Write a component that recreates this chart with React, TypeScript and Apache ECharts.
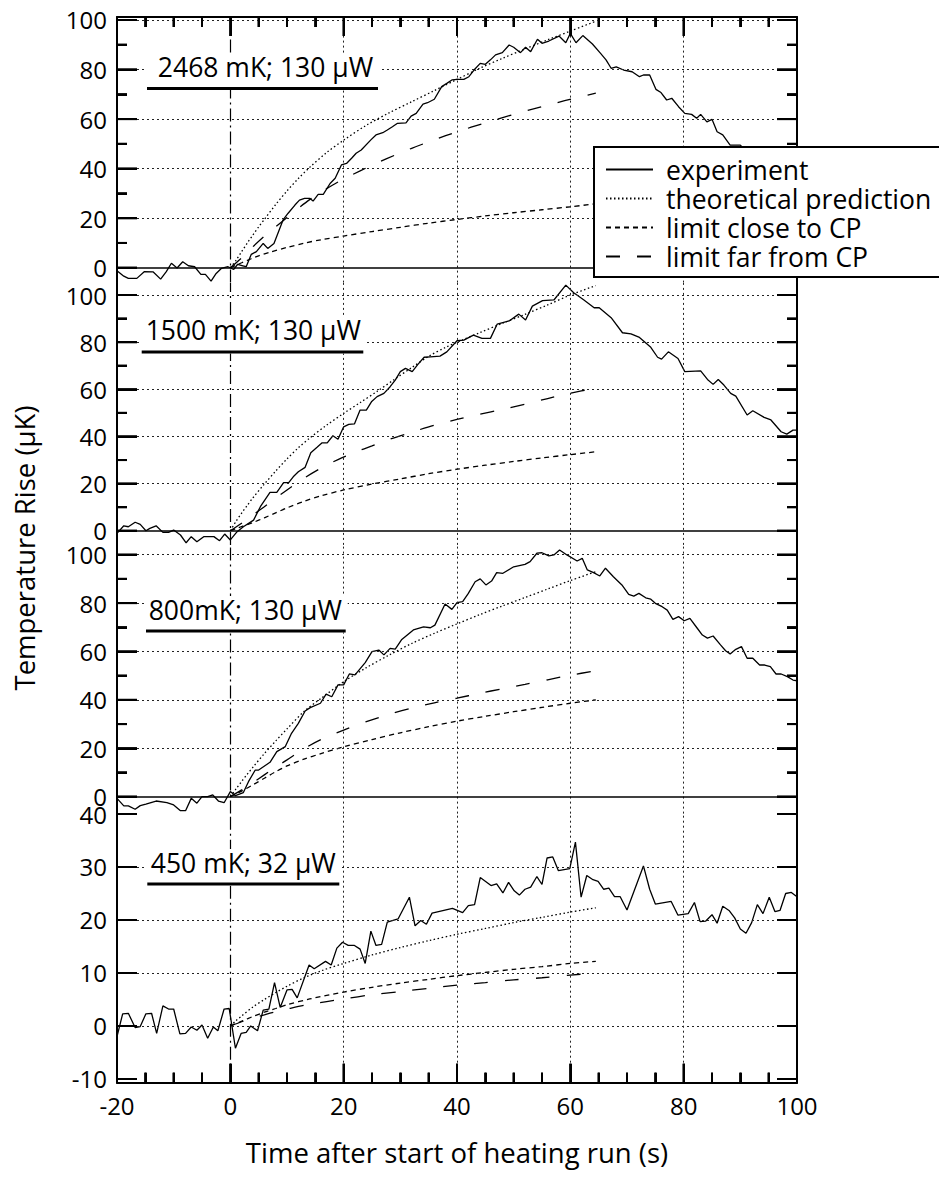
import React, { useEffect, useRef } from "react";
import * as echarts from "echarts";

const FONT = '"Open Sans", "Noto Sans", sans-serif';

// ---- shared axis values ----
const timeMin = -20;
const timeMax = 100;
const timeStep = 20;
const timeMajorTicks = [0, 20, 40, 60, 80];
const timeMinorTicks = [-15, -10, -5, 5, 10, 15, 25, 30, 35, 45, 50, 55, 65, 70, 75, 85, 90, 95];
const riseTicks = [0, 20, 40, 60, 80, 100];
const riseMinorTicks = [10, 30, 50, 70, 90];
const riseTicksLow = [-10, 0, 10, 20, 30, 40];
const gridRise = [20, 40, 60, 80, 100];
const gridRiseLow = [0, 10, 20, 30];
const gridTime = [20, 40, 60, 80];

const panelLabels = ["2468 mK; 130 \u03bcW", "1500 mK; 130 \u03bcW", "800mK; 130 \u03bcW", "450 mK; 32 \u03bcW"];
const seriesNames = ["experiment", "theoretical prediction", "limit close to CP", "limit far from CP"];

// ---- 2468 mK, 130 uW : [time s, rise uK] ----
const exp2468 = [
  [-20, -1.2], [-18.8, -3.4], [-18, -4.3], [-16.5, -4.3], [-15.2, -1.6], [-13.6, -1.7], [-12.3, -4.6], [-11.3, -1.6],
  [-10.4, 1.8], [-9.4, -0.1], [-8.4, 2.4], [-7.4, 0.8], [-6.3, 0.4], [-5.2, -2.7], [-4.4, -2.7], [-3.4, -5.4],
  [-2.5, -2.3], [-1.6, -0.3], [-0.4, 0.4], [0.6, -0.7], [1.3, 1.4], [2.2, 0.8], [2.8, 0.4], [3.7, 5.4], [4.6, 6.5],
  [5.8, 9.8], [6.6, 7.8], [7.7, 9.8], [8.4, 13.9], [9.3, 19.3], [10.2, 22], [11.4, 25.3], [12.2, 27.3], [13.1, 28],
  [14, 28], [14.6, 26.9], [15.5, 29.6], [16.4, 29.6], [17.6, 34], [18.5, 36.1], [19.6, 41.5], [20.5, 42.1],
  [21.4, 44.2], [22.2, 46.2], [23.1, 47.5], [24.8, 51.6], [25.7, 53.6], [26.9, 54.5], [27.7, 55.6], [28.6, 56.9],
  [29.5, 58.3], [31, 58.5], [31.9, 61.2], [32.8, 62.3], [34, 66], [34.8, 66.6], [36, 68], [37.3, 73.1], [38.2, 74.4],
  [39.1, 75.8], [40, 76], [41.2, 76], [42.1, 77.1], [43, 79.8], [44.1, 82.5], [45, 82.1], [45.9, 83.9], [46.8, 85.9],
  [48, 86.8], [49.2, 89.9], [50, 89], [51.2, 86.8], [52.1, 89], [53, 87.2], [54.2, 92.2], [55, 90.6], [56.2, 91.5],
  [58, 93.5], [59.2, 90.8], [60, 94.6], [61, 90.8], [62.2, 93.7], [63.9, 90.3], [65.3, 86.6], [66.3, 83.9],
  [67.2, 80.5], [68.1, 81.1], [69.4, 79.8], [70.9, 79.1], [72.2, 77.1], [72.9, 77.8], [74, 77.8], [75.1, 72],
  [76, 70.7], [77, 67.7], [77.9, 68.4], [79.1, 65], [80.2, 62.3], [81.4, 61.9], [82.3, 60.3], [83, 61.9],
  [84.1, 58.9], [85, 59.9], [85.9, 54.9], [86.9, 53.6], [88.2, 49.5], [90, 49.5], [91.5, 46],
];
const theo2468 = [
  [0, 0], [1, 3], [2, 6.5], [3, 10], [4, 13.3], [5, 16.5], [6, 19.5], [8, 25.5], [10, 31], [12, 36], [14, 40.5],
  [17, 46.5], [20, 51.5], [24, 57.5], [28, 62.5], [32, 67], [36, 71.5], [40, 76], [44, 80.5], [48, 84.5],
  [52, 88.3], [56, 92], [60, 95.5], [64.5, 99.5],
];
const close2468 = [
  [0, 0], [1, 1], [2, 2], [3, 3], [4, 3.9], [5, 4.8], [7, 6.3], [10, 8.2], [13, 9.9], [16, 11.3], [20, 12.8],
  [25, 14.6], [30, 16.3], [35, 18], [40, 19.5], [45, 20.9], [50, 22.2], [55, 23.4], [60, 24.6], [64.5, 25.8],
];
const far2468 = [
  [0, 0], [2, 4], [4, 8.5], [6, 12.7], [8, 16.5], [10, 20.3], [12, 24], [14, 27.5], [16, 30.5], [18, 33.3],
  [20, 35.8], [23, 39.2], [26, 42.4], [29, 45.4], [32, 48.2], [35, 50.8], [38, 53.3], [41, 55.6], [44, 57.8],
  [47, 59.9], [50, 61.9], [53, 63.8], [56, 65.6], [59, 67.4], [62, 69.1], [64.5, 70.5],
];

// ---- 1500 mK, 130 uW ----
const exp1500 = [
  [-20, -1.1], [-18.8, 2.1], [-18, 1.7], [-16.8, 3.6], [-15.9, 2.7], [-14.9, 0], [-14.2, 1], [-13.1, 2.1],
  [-11.9, -0.7], [-10.9, -0.7], [-10, 0.3], [-8.8, -1.8], [-7.8, -5.1], [-6.9, -2.5], [-5.9, -4.7], [-4.7, -2.5],
  [-2.9, -2.5], [-1.9, -4.2], [-1, -1.4], [0, -3.9], [1.2, -0.4], [2.3, 1.7], [4.1, 4.5], [5.3, 10.2], [7, 16.3],
  [8.2, 16.3], [9.4, 20.4], [10.3, 20.4], [11.1, 22.9], [12, 25], [13.2, 26.9], [14.2, 33.1], [15.3, 35.4],
  [16.2, 37.3], [17.1, 37.3], [18.1, 40.3], [19, 38.8], [20, 44.1], [20.9, 45.1], [21.9, 45.3], [22.9, 51.2],
  [24, 51.2], [24.9, 54.7], [25.9, 56.9], [27.1, 58.3], [28.2, 61.1], [29.1, 63.9], [30, 67.5], [30.9, 68.9],
  [32.1, 67.5], [33.1, 70.6], [34.2, 73.6], [35.3, 73.8], [37, 74.1], [38.2, 75.9], [40, 80.6], [41.2, 80.9],
  [42.9, 83], [44.4, 81.6], [45.9, 81.6], [47.1, 87.7], [49.2, 89], [50.9, 91.9], [52.1, 89.4], [53.3, 95.3],
  [55.1, 97.6], [57.1, 97.9], [59.2, 104.2], [60.6, 101], [62.4, 97.9], [64.2, 94.6], [65.1, 94.6], [67.2, 90.4],
  [69.2, 84], [70.7, 83.5], [72.2, 82], [74.2, 77.8], [75.4, 73.6], [76.1, 72.8], [77.3, 75.9], [79, 73.1],
  [80.2, 67.5], [83, 67.8], [84.2, 64.2], [85.2, 62.1], [86.1, 64.2], [87.1, 61.8], [88.3, 58.3], [89.2, 57.1],
  [91.2, 49.1], [92.2, 50.9], [94.2, 48.1], [95.4, 47], [97.2, 42], [98.2, 41], [99.3, 42.7], [100, 42.7],
];
const theo1500 = [
  [0, 0], [1, 4], [2, 7.5], [3, 10.8], [4, 14], [6, 19.8], [8, 25.3], [10, 30.5], [12, 35.2], [14, 39.3],
  [17, 44.8], [20, 49.8], [23, 54.5], [26, 59.3], [29, 64.3], [32, 69.2], [35, 74], [38, 77.8], [41, 81],
  [44, 84], [48, 88], [52, 91.8], [56, 95.8], [60, 100], [64.5, 104],
];
const close1500 = [
  [0, 0], [1, 0.9], [2, 1.8], [4, 3.5], [6, 5.5], [8, 7.6], [10, 9.7], [13, 12.5], [16, 14.8], [20, 17.3],
  [25, 19.8], [30, 22], [35, 24.2], [40, 26.1], [45, 27.8], [50, 29.4], [55, 30.9], [60, 32.3], [64.5, 33.5],
];
const far1500 = [
  [0, 0], [2, 3.2], [4, 6.7], [6, 10.2], [8, 13.8], [10, 17.3], [13, 22.3], [16, 26.6], [19, 30.2], [22, 33.3],
  [25, 36], [28, 38.7], [32, 41.8], [36, 44.8], [40, 47.2], [44, 49.4], [48, 51.5], [52, 53.7], [56, 56.1],
  [60, 58.3], [64.5, 60.6],
];

// ---- 800 mK, 130 uW ----
const exp800 = [
  [-20, -0.7], [-18.8, -3.8], [-18, -3.8], [-16.8, -5.2], [-15.9, -3.7], [-14.9, -3.1], [-13.1, -1.8],
  [-11.2, -2.5], [-10, -3.4], [-8.8, -5.8], [-7.9, -5.8], [-6.9, -0.7], [-5.9, -2.7], [-5, 0], [-4, 0],
  [-3.1, 0.7], [-2.1, -1.8], [-1.1, -2.5], [0, 2.1], [0.9, 0.4], [2.3, 1.7], [3.2, 6.2], [4.4, 11], [5, 11],
  [7, 14.2], [8.2, 18.6], [9.7, 20.7], [10.8, 26.2], [12, 30.3], [13.2, 35.4], [14.1, 36.8], [15.9, 38.6],
  [16.9, 42.4], [17.9, 41.3], [19, 46.2], [20, 46.2], [21, 50.7], [22, 50.3], [23.8, 55.4], [25, 59.9],
  [26.2, 60.6], [27.1, 58.6], [28.2, 61.3], [29.1, 61], [30.2, 64.8], [32.3, 68.9], [34.1, 70.2], [35.3, 69.8],
  [36.1, 70.9], [37.9, 79.6], [39.1, 77.4], [40, 80.2], [41, 80.6], [42, 84], [43.2, 88.8], [44.1, 90],
  [45.1, 87.5], [46.1, 89.1], [47, 92.6], [48.1, 92.3], [50, 95], [52, 96], [52.9, 97.1], [54.1, 100.6],
  [55, 100.8], [56.2, 99.5], [57.1, 99.9], [58.1, 101.9], [59.4, 99.9], [61.2, 97.4], [62.1, 98.5], [63, 93.7],
  [64.1, 92.6], [65.2, 91.2], [66.2, 94.4], [67.6, 90.9], [69.1, 87.5], [70.3, 83.6], [71.2, 82.9], [72.1, 84],
  [73.3, 82.2], [74.2, 81.6], [75, 79.9], [76.2, 78.5], [77.1, 77.1], [78.1, 73.3], [79.1, 74.4], [80.1, 72.7],
  [81.1, 73.7], [82.4, 69.6], [83.3, 66.8], [84.2, 65.5], [85.2, 66.4], [86.5, 62.7], [87.4, 60.3], [88.2, 59],
  [89.2, 60.9], [90.2, 62], [91.2, 57.2], [92.2, 57.2], [93.4, 54.4], [94.3, 54.4], [95.3, 53.7], [96.3, 50.7],
  [97.2, 50.7], [98.3, 49.6], [99.3, 48.2], [100, 47.9],
];
const theo800 = [
  [0, 0], [1, 3.2], [2, 6.3], [3, 9.3], [4, 12.2], [6, 17.8], [8, 23], [10, 28], [13, 35.2], [16, 40.6],
  [20, 47.5], [24, 53.3], [28, 58.5], [32, 63.3], [36, 67.5], [40, 71.4], [44, 75.2], [48, 78.8], [52, 82.3],
  [56, 85.8], [60, 89.3], [64.5, 93],
];
const close800 = [
  [0, 0], [1, 1.1], [2, 2.3], [4, 4.9], [6, 7.6], [8, 10.3], [10, 12.7], [13, 15.5], [16, 17.8], [20, 20.6],
  [25, 23.6], [30, 26.4], [35, 28.9], [40, 31.2], [45, 33.2], [50, 35.1], [55, 36.9], [60, 38.6], [64.5, 40],
];
const far800 = [
  [0, 0], [2, 2.8], [4, 5.8], [6, 9], [8, 12.2], [10, 15.2], [13, 19.8], [16, 23.6], [20, 27.5], [24, 31],
  [28, 34], [32, 36.6], [36, 38.8], [40, 40.7], [44, 42.7], [48, 44.6], [52, 46.4], [56, 48.3], [60, 50.2],
  [64.5, 52],
];

// ---- 450 mK, 32 uW ----
const exp450 = [
  [-20, -2], [-19, 2.3], [-18, 2.4], [-16.8, -0.3], [-15.9, -0.1], [-14.9, 2.3], [-13.9, 2.4], [-13, -1.4],
  [-11.9, 3.8], [-10.9, 3.2], [-10, 3.2], [-8.9, -1.5], [-7.9, -1.4], [-6.9, -0.2], [-5.9, -0.8], [-5, 0.2],
  [-4, -2.3], [-3, -0.2], [-2.2, -0.9], [-1.1, 3.2], [-0.2, 3.3], [0.9, -4.2], [1.9, -1.4], [2.8, -1.2], [3.6, 0],
  [4.8, -0.9], [5.8, 3], [6.8, 3.2], [7.8, 8.2], [8.8, 3.5], [10, 6.8], [10.9, 6.9], [11.8, 5.3], [13.9, 11.5],
  [14.8, 10.8], [16.8, 12.2], [17.8, 11.5], [18.8, 14.7], [19.8, 15.8], [20.8, 15.2], [21.9, 15.2], [22.9, 14.5],
  [23.8, 11.8], [24.8, 17.9], [25.7, 15.2], [26.7, 15.4], [27.7, 19.6], [29.6, 20.2], [31.6, 24.3], [32.6, 18.9],
  [33.6, 19.9], [34.6, 19.2], [35.6, 21.3], [39.2, 22.2], [41, 21.4], [42, 22.7], [43.1, 22.9], [44.1, 28],
  [46, 26.5], [47, 26.8], [48.1, 25.1], [49.1, 27.1], [50.1, 25.5], [51, 24.7], [52, 25.8], [53, 26.2],
  [54.1, 28.2], [55, 26.7], [55.9, 31.7], [56.9, 31.9], [57.9, 29.3], [59.9, 29.7], [60.9, 34.7], [61.9, 24.3],
  [62.9, 28.4], [64, 27.6], [64.9, 27.3], [65.9, 25.8], [66.8, 26], [67.8, 24.4], [68.8, 24.4], [70, 21.9],
  [72.9, 30.2], [74, 25.8], [75, 23], [77.8, 23.5], [79, 20.9], [80.8, 21.2], [81.9, 23.3], [82.9, 19.7],
  [83.9, 19.8], [85, 21], [85.9, 19.4], [86.9, 22.6], [88, 21.8], [89, 20.4], [90, 18.3], [91, 17.5], [92, 19.5],
  [93, 22.9], [94, 21.2], [95.1, 24.3], [96.1, 21.6], [97, 21.8], [98, 25], [99, 25.2], [100, 24.4],
];
const theo450 = [
  [0, 0], [1, 1], [2, 1.9], [4, 3.6], [6, 5], [8, 6.3], [10, 7.5], [13, 9.1], [16, 10.4], [20, 11.8], [25, 13.4],
  [30, 14.8], [35, 16.1], [40, 17.3], [45, 18.4], [50, 19.5], [55, 20.5], [60, 21.5], [64.5, 22.3],
];
const close450 = [
  [0, 0], [2, 0.9], [4, 1.8], [6, 2.6], [8, 3.3], [10, 4], [14, 5.1], [20, 6.4], [25, 7.3], [30, 8.1], [35, 8.8],
  [40, 9.5], [45, 10.1], [50, 10.7], [55, 11.2], [60, 11.8], [64.5, 12.2],
];
const far450 = [
  [0, 0], [2, 0.8], [4, 1.5], [6, 2.1], [8, 2.7], [10, 3.2], [14, 4.1], [20, 5.1], [25, 5.9], [30, 6.5],
  [35, 7.1], [40, 7.7], [45, 8.2], [50, 8.7], [55, 9.1], [60, 9.6], [64.5, 10],
];

const experiments = [exp2468, exp1500, exp800, exp450];
const theories = [theo2468, theo1500, theo800, theo450];
const closeLimits = [close2468, close1500, close800, close450];
const farLimits = [far2468, far1500, far800, far450];

// ---- layout of the four stacked panels (pixels / axis extents) ----
const PLOT_LEFT = 117;
const PLOT_WIDTH = 680;
const panelLayout = [
  { top: 17, height: 265.6, min: -6, max: 101.2 },
  { top: 283, height: 261.9, min: -6, max: 105.1 },
  { top: 545, height: 268.6, min: -7, max: 104 },
  { top: 814, height: 268.7, min: -10.7, max: 40 },
];
const titleBoxes = [
  { cx: 265.5, cy: 66.5, left: 147, right: 378, boxTop: 53, lineY: 87 },
  { cx: 253.3, cy: 329.5, left: 141.7, right: 363.3, boxTop: 316, lineY: 350.5 },
  { cx: 245.3, cy: 609.5, left: 146, right: 345.7, boxTop: 596, lineY: 629.5 },
  { cx: 243.3, cy: 862.5, left: 147.3, right: 339.3, boxTop: 849, lineY: 882.5 },
];

const BLACK = "#000";
const MAJOR_LEN = 20; // px
const MINOR_LEN = 10; // px
const TICK_WIDTH = 2;
const dottedGrid = { color: "#222", width: 1, type: [2, 3] };
const tickLine = { color: BLACK, width: TICK_WIDTH, type: "solid" };
const styles = [
  { width: 1.3, type: "solid" },
  { width: 1.3, type: [1.5, 2.5] },
  { width: 1.3, type: [5, 4] },
  { width: 1.3, type: [14, 17] },
];

// inward frame ticks of one panel as [x, y, dxPx, dyPx], anchored on the frame
function frameTicks(p: { min: number; max: number }, isTop: boolean, isBottom: boolean) {
  const items: number[][] = [];
  const yTicks: number[][] = (isBottom ? riseTicksLow : riseTicks).map((v) => [v, MAJOR_LEN]);
  if (!isBottom) riseMinorTicks.forEach((v) => yTicks.push([v, MINOR_LEN]));
  yTicks.forEach(([v, len]) => {
    items.push([timeMin, v, len, 0]);
    items.push([timeMax, v, -len, 0]);
  });
  const xTicks: number[][] = timeMajorTicks.map((t) => [t, MAJOR_LEN - 1]);
  timeMinorTicks.forEach((t) => xTicks.push([t, MINOR_LEN]));
  xTicks.forEach(([t, len]) => {
    if (isTop) items.push([t, p.max, 0, len]);
    if (isBottom) items.push([t, p.min, 0, -len]);
  });
  return items;
}

function buildOption() {
  const grids: any[] = [];
  const xAxes: any[] = [];
  const yAxes: any[] = [];
  const series: any[] = [];

  panelLayout.forEach((p, i) => {
    grids.push({ left: PLOT_LEFT, width: PLOT_WIDTH, top: p.top, height: p.height });

    const isTop = i === 0;
    const isBottom = i === panelLayout.length - 1;
    xAxes.push({
      type: "value",
      gridIndex: i,
      min: timeMin,
      max: timeMax,
      interval: timeStep,
      position: isTop ? "top" : "bottom",
      show: true,
      axisLine: { show: isTop || isBottom, onZero: false, lineStyle: { color: BLACK, width: 2 } },
      axisTick: { show: false },
      axisLabel: { show: isBottom, margin: 11, fontFamily: FONT, fontSize: 24, color: BLACK },
      splitLine: { show: false },
      name: isBottom ? "Time after start of heating run (s)" : "",
      nameLocation: "middle",
      nameGap: 56,
      nameTextStyle: { fontFamily: FONT, fontSize: 27.5, color: BLACK },
    });

    const major = isBottom ? riseTicksLow : riseTicks;
    const mainIndex = yAxes.length;
    ["left", "right"].forEach((side) => {
      yAxes.push({
        type: "value",
        gridIndex: i,
        min: p.min,
        max: p.max,
        position: side,
        axisLine: { show: true, onZero: false, lineStyle: { color: BLACK, width: 2 } },
        axisTick: { show: false },
        axisLabel: {
          show: side === "left",
          customValues: major,
          margin: 10,
          fontFamily: FONT,
          fontSize: 24,
          color: BLACK,
        },
        splitLine: { show: false },
      });
    });

    // grid lines, the heater-on marker at t = 0, the zero baseline and the frame ticks
    const secPerPx = (timeMax - timeMin) / PLOT_WIDTH;
    const unitPerPx = (p.max - p.min) / p.height;
    const lines: any[] = [];
    (isBottom ? gridRiseLow : gridRise).forEach((v) => lines.push({ yAxis: v, lineStyle: dottedGrid }));
    gridTime.forEach((v) => lines.push({ xAxis: v, lineStyle: dottedGrid }));
    lines.push({ xAxis: 0, lineStyle: { color: BLACK, width: 1.2, type: [13, 4, 2, 4] } });
    if (!isBottom) lines.push({ yAxis: 0, lineStyle: { color: BLACK, width: 1.5, type: "solid" } });
    frameTicks(p, isTop, isBottom).forEach(([x, y, dx, dy]) => {
      lines.push([
        { coord: [x, y], lineStyle: tickLine },
        { coord: [x + dx * secPerPx, y - dy * unitPerPx] },
      ]);
    });

    series.push({
      type: "line",
      name: "grid-" + i,
      xAxisIndex: i,
      yAxisIndex: mainIndex,
      data: [[0, 0]],
      symbol: "none",
      lineStyle: { opacity: 0 },
      z: 1,
      markLine: {
        silent: true,
        symbol: ["none", "none"],
        label: { show: false },
        data: lines,
      },
    });

    // the same frame ticks through a custom series
    series.push({
      type: "custom",
      xAxisIndex: i,
      yAxisIndex: mainIndex,
      clip: false,
      z: 10,
      data: frameTicks(p, isTop, isBottom),
      renderItem: (_params: any, api: any) => {
        const a = api.coord([api.value(0), api.value(1)]);
        return {
          type: "line",
          shape: { x1: a[0], y1: a[1], x2: a[0] + api.value(2), y2: a[1] + api.value(3) },
          style: { stroke: BLACK, lineWidth: TICK_WIDTH },
        };
      },
    });

    const sets = [experiments[i], theories[i], closeLimits[i], farLimits[i]];
    sets.forEach((d, k) => {
      series.push({
        type: "line",
        name: seriesNames[k],
        xAxisIndex: i,
        yAxisIndex: mainIndex,
        data: d,
        symbol: "none",
        showSymbol: false,
        smooth: k === 0 ? false : 0.3,
        z: 3,
        lineStyle: { color: BLACK, width: styles[k].width, type: styles[k].type },
        itemStyle: { color: BLACK },
      });
    });
  });

  const graphics: any[] = [];
  titleBoxes.forEach((b, i) => {
    graphics.push({
      type: "rect",
      z: 50,
      shape: { x: b.left - 2, y: b.boxTop, width: b.right - b.left + 4, height: b.lineY + 3 - b.boxTop },
      style: { fill: "#fff" },
    });
    graphics.push({
      type: "text",
      z: 51,
      x: b.cx,
      y: b.cy,
      style: {
        text: panelLabels[i],
        fontFamily: FONT,
        fontSize: 26.5,
        fill: BLACK,
        align: "center",
        verticalAlign: "middle",
      },
    });
    graphics.push({
      type: "rect",
      z: 51,
      shape: { x: b.left, y: b.lineY, width: b.right - b.left, height: 3 },
      style: { fill: BLACK },
    });
  });
  graphics.push({
    type: "text",
    x: 24.5,
    y: 548,
    rotation: Math.PI / 2,
    z: 50,
    style: {
      text: "Temperature Rise (\u03bcK)",
      fontFamily: FONT,
      fontSize: 27.5,
      fill: BLACK,
      align: "center",
      verticalAlign: "middle",
    },
  });

  return {
    animation: false,
    backgroundColor: "#fff",
    grid: grids,
    xAxis: xAxes,
    yAxis: yAxes,
    series,
    legend: {
      data: seriesNames,
      orient: "vertical",
      left: 594,
      top: 147,
      itemWidth: 47,
      itemHeight: 14,
      itemGap: 0,
      padding: [8, 90, 6, 11],
      backgroundColor: "#fff",
      borderColor: BLACK,
      borderWidth: 2,
      borderRadius: 0,
      selectedMode: false,
      z: 20,
      itemStyle: { color: "rgba(0,0,0,0)", borderWidth: 0, opacity: 0 },
      textStyle: { fontFamily: FONT, fontSize: 26.5, color: BLACK, lineHeight: 29, padding: [0, 0, 0, 8] },
    },
    graphic: graphics,
  };
}

// frame ticks placed after layout through each panel's axes
function tickGraphics(chart: any) {
  const out: any[] = [];
  panelLayout.forEach((p, i) => {
    const isTop = i === 0;
    const isBottom = i === panelLayout.length - 1;
    frameTicks(p, isTop, isBottom).forEach(([x, y, dx, dy]) => {
      const a = chart.convertToPixel({ gridIndex: i }, [x, y]);
      if (!a) return;
      out.push({
        type: "line",
        shape: { x1: a[0], y1: a[1], x2: a[0] + dx, y2: a[1] + dy },
        style: { stroke: BLACK, lineWidth: TICK_WIDTH },
      });
    });
  });
  return out;
}

export default function App() {
  const ref = useRef<HTMLDivElement>(null);
  useEffect(() => {
    if (!ref.current) return;
    const chart = echarts.init(ref.current, null, { renderer: "svg" });
    const option: any = buildOption();
    try {
      chart.setOption(option);
    } catch (e) {
      // keep whatever was drawn
    }
    try {
      chart.setOption({ graphic: option.graphic.concat(tickGraphics(chart)) });
    } catch (e) {
      // ticks are also drawn by the series above
    }
    return () => chart.dispose();
  }, []);
  return (
    <div
      ref={ref}
      style={{ position: "absolute", left: 0, top: 0, width: 939, height: 1178, background: "#fff" }}
    />
  );
}
